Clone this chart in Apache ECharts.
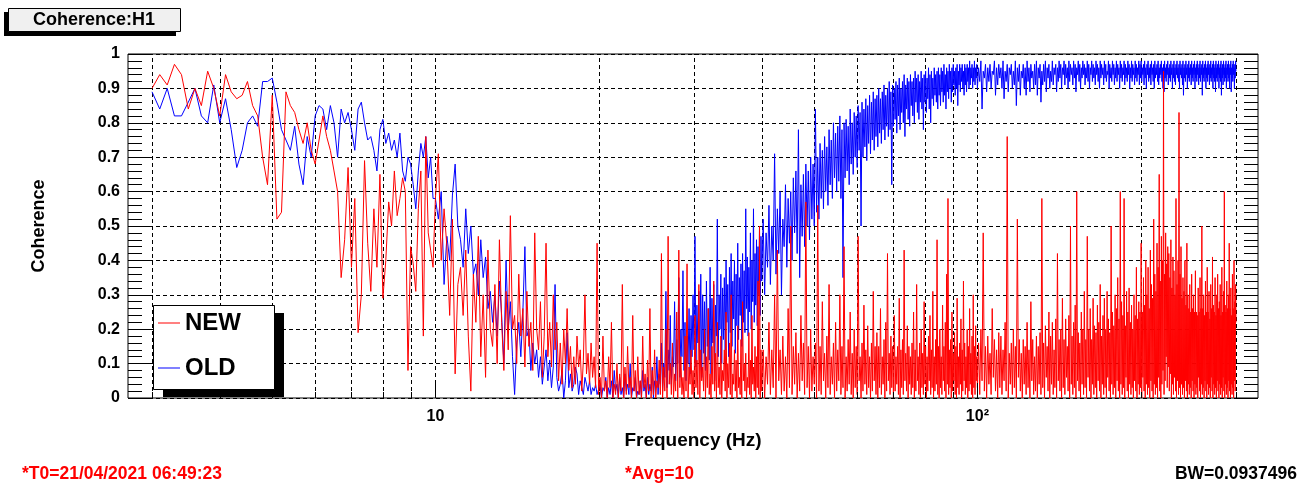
<!DOCTYPE html>
<html><head><meta charset="utf-8">
<script src="https://cdn.jsdelivr.net/npm/echarts@6/dist/echarts.min.js"></script>
<style>html,body{margin:0;padding:0;background:#fff}#c{width:1307px;height:490px}</style>
</head><body><div id="c"></div><script>
// Frequency segments (Hz): start and spacing of the values below
const SEG_START = [3, 10, 20, 40, 100];
const SEG_STEP = [0.1, 0.125, 0.125, 0.25, 0.5];

// NEW (red) coherence, in percent
const NEW_3_10 = [90,94,91,97,94,84,90,85,95,90, 82,94,89,87,88,92,85,82,70,62, 88,52,54,89,85,83,78,74,80,72,
  68,75,82,76,72,66,60,35,46,67, 38,58,19,30,69,45,31,55,38,65, 29,40,57,50,66,53,58,64,60,8, 44,39,31,55,66,18,76,48,43,38];
const NEW_10_20 = [58,71,40,55,44,24,52,7,33,38, 24,43,18,2,36,22,47,12,30,6, 43,20,15,33,10,46,22,8,31,14,
  53,20,24,10,36,18,26,9,31,15, 22,8,48,20,14,28,6,18,45,12, 22,9,30,14,22,5,16,4,20,10,
  26,8,15,3,12,4,18,9,14,2, 11,30,7,13,4,16,6,12,3,45];
const NEW_20_40 = [1,6,0,18,2,5,0,12, 3,22,0,4,1,10,0,7, 2,33,0,9,1,15,3,6, 0,24,2,8,0,12,1,5,
  0,18,3,7,0,11,2,26, 0,8,1,14,0,5,3,11, 1,42,0,9,2,20,0,47, 4,10,1,16,0,7,2,25,
  0,43,3,12,1,6,0,18, 2,39,0,9,4,14,1,8, 0,24,3,11,1,33,0,14, 5,9,2,20,0,12,3,26,
  1,7,0,15,4,34,2,13, 0,22,3,9,1,18,0,8, 5,14,2,25,0,10,3,16, 1,30,0,7,4,14,2,11,
  0,21,3,6,1,17,0,28, 5,10,2,13,0,6,3,19, 1,11,0,24,4,9,2,15, 0,12,3,34,1,50,0,14];
const NEW_40_100 = [2,14,0,12,4,22,1,14,3,30,0,43,5,14,1,18,2,12,0,26,
  3,50,1,15,4,19,0,13,2,24,5,16,1,57,3,15,0,20,2,12,
  4,16,0,56,2,15,1,28,5,13,0,18,3,33,1,12,4,16,0,22,
  2,14,5,30,1,15,3,44,0,12,2,17,4,25,1,13,0,20,3,15,
  1,47,5,12,0,16,2,27,4,14,1,21,3,12,0,16,2,31,5,15,
  1,19,0,15,3,26,1,12,4,17,0,22,2,42,5,13,1,18,3,15,
  0,24,2,12,4,15,1,29,0,14,3,17,1,43,5,13,2,21,0,15,
  4,12,1,16,3,25,0,14,2,33,5,12,1,16,0,20,3,13,1,28,
  4,15,0,12,2,18,5,24,1,14,3,31,0,12,2,17,4,46,1,15,
  0,20,3,12,1,27,5,15,2,22,0,36,4,58,1,14,3,17,0,25,
  2,13,5,19,1,15,0,29,3,12,1,16,4,23,0,14,2,34,5,16,
  1,12,3,20,0,15,2,26,4,13,1,18,0,30,3,15,1,21,5,12];
const NEW_100_300 = [3,16,1,20,5,48,2,15,0,18,4,13,1,26,6,17,2,14,0,19,
  3,18,1,14,5,22,2,76,0,13,4,16,1,20,3,15,0,52,6,17,
  2,13,0,17,4,15,1,22,3,14,0,28,5,17,1,12,2,18,0,15,
  4,19,1,58,3,16,0,21,6,15,2,25,0,18,4,22,1,14,3,23,
  0,42,5,17,2,20,0,29,3,17,1,23,6,15,2,24,0,50,4,18,
  1,22,3,27,0,60,5,19,2,16,0,25,4,20,1,31,3,17,0,47,
  6,20,2,26,0,17,4,29,1,21,3,19,0,27,5,22,2,33,0,18,
  4,24,1,29,3,20,0,31,6,23,2,19,0,50,4,25,1,21,3,30,
  0,26,5,35,2,23,0,60,4,28,1,24,3,58,0,21,6,31,2,25,
  0,32,4,22,1,27,3,20,0,30,5,24,2,38,0,23,4,28,1,25,
  3,45,0,25,6,35,2,27,0,40,4,30,1,38,3,26,0,43,5,33,
  2,29,0,52,4,36,1,31,3,45,0,38,6,65,2,34,0,47,4,40,
  8,95,1,36,5,48,12,39,3,44,9,42,2,35,7,46,0,32,4,41,
  1,37,6,30,2,58,0,33,5,40,1,83,3,36,0,44,4,29,1,35,
  3,31,0,40,5,27,2,45,0,30,4,26,1,33,3,25,0,36,5,26,
  2,30,0,25,4,37,1,25,3,24,0,32,6,25,2,35,0,26,4,50,
  1,26,3,30,0,24,5,34,2,25,0,38,4,25,1,31,3,23,0,33,
  6,26,2,41,0,27,4,25,1,35,3,24,0,30,5,36,2,26,0,28,
  4,33,1,24,3,38,0,25,6,31,2,60,0,27,4,25,1,34,3,26,
  0,30,5,45,2,26,0,32,4,24,1,36,3,26,0,40,5,28,2,33, 22];

// OLD (blue) coherence, in percent
const OLD_3_10 = [89,84,90,82,82,86,90,82,80,91, 80,87,78,67,72,80,82,79,92,92, 93,86,78,75,72,79,68,62,76,70,
  82,85,84,78,85,80,70,84,80,83, 78,72,84,86,80,75,76,72,66,78, 81,74,77,72,75,70,77,66,63,70, 68,62,55,66,74,70,76,64,70,58];
const OLD_10_20 = [58,52,60,33,47,40,59,68,50,46, 38,55,42,50,36,39,30,46,35,41, 26,31,22,30,18,34,24,10,40,20,
  28,12,1,16,22,12,25,44,18,20, 8,16,10,14,6,12,4,9,14,5, 11,3,9,33,6,2,4,8,0,5,
  19,3,7,2,4,9,7,1,5,3, 1,6,4,2,5,1,3,2,4,1];
const OLD_20_40 = [1,4,0,3,2,6,0,3, 1,5,0,8,2,4,0,6, 1,3,0,7,2,4,1,10, 0,3,2,6,0,2,1,5,
  0,8,2,4,0,6,1,4, 2,9,0,5,3,12,1,7, 4,16,2,10,6,31,3,14, 8,24,4,12,9,28,5,17,
  10,35,6,20,12,37,8,22, 5,18,10,26,7,24,12,30, 14,47,9,27,16,31,10,36, 6,30,13,28,8,34,15,26,
  11,38,7,29,16,33,5,27, 18,52,12,30,20,36,10,32, 17,35,14,40,22,33,12,38, 19,42,15,34,23,40,13,36,
  21,45,17,35,24,39,15,42, 22,37,19,55,26,41,18,38, 25,48,20,40,28,55,22,42, 27,46,21,44,30,50,24,47];
const OLD_40_100 = [34,52,30,48,38,56,33,50,40,71,36,55,42,60,30,52,44,62,38,58,
  45,60,40,64,48,66,42,78,35,62,47,65,44,68,50,66,46,70,52,68,
  50,84,54,70,52,74,58,72,55,76,60,73,56,78,62,75,58,80,64,77,
  60,79,63,82,58,78,35,80,64,81,66,79,62,84,68,80,65,83,70,82,
  67,85,72,83,50,86,70,84,73,87,69,85,74,88,71,86,75,89,72,87,
  76,88,73,90,77,87,74,89,78,91,75,88,79,90,76,92,78,89,62,91,
  79,90,81,92,77,91,82,93,78,90,83,92,80,94,76,91,84,93,81,92,
  79,94,85,92,82,93,80,95,86,93,83,94,81,92,86,95,84,93,78,94,
  86,95,83,93,87,96,84,94,80,95,87,93,85,96,88,94,86,95,84,96,
  88,94,85,96,89,95,86,97,88,94,84,96,89,95,87,97,90,95,86,96,
  89,97,91,95,88,96,90,97,85,95,91,97,89,96,92,97,90,95,88,97,
  91,96,89,97,92,96,90,98,91,96,93,97,90,96,92,98,91,96,93,97];
const OLD_100_300 = [90,96,92,98,84,95,93,97,89,96,92,97,90,95,94,98,88,96,91,97,
  93,96,90,98,87,95,92,97,89,96,94,97,90,95,91,98,85,96,92,97,
  88,95,93,97,90,96,88,98,92,96,89,97,93,95,90,97,91,98,88,96,
  93,97,86,95,91,97,92,98,89,96,93,97,90,95,92,98,91,96,94,97,
  89,96,92,98,93,97,90,96,94,98,91,97,93,96,90,98,92,97,94,96,
  91,98,93,97,89,96,94,98,92,97,90,96,93,98,94,97,91,96,93,98,
  92,97,90,96,94,98,92,97,93,96,91,98,94,97,92,96,90,98,93,97,
  94,96,91,98,93,97,92,95,94,98,90,97,93,96,92,98,94,97,91,96,
  93,98,92,97,94,96,90,98,93,97,92,96,94,98,91,97,93,96,92,98,
  94,97,90,96,93,98,92,97,94,96,91,98,93,97,92,96,94,98,91,97,
  93,98,92,96,94,97,91,98,93,96,90,97,94,98,92,96,93,97,91,98,
  94,96,92,97,90,98,93,96,94,97,92,98,91,96,93,97,94,98,92,96,
  90,97,89,98,93,96,92,97,94,98,91,96,93,97,92,98,94,96,90,97,
  93,98,92,96,91,97,94,98,93,96,92,97,90,98,94,96,93,97,91,98,
  88,96,93,97,92,98,94,96,90,97,93,98,92,96,94,97,91,98,93,96,
  92,97,94,98,90,96,93,97,92,98,94,96,91,97,93,98,92,96,94,97,
  88,98,93,96,92,97,94,98,90,96,93,97,92,98,94,96,91,97,93,98,
  92,96,94,97,90,98,93,96,92,97,89,98,93,96,92,97,94,98,90,96,
  93,97,92,98,88,96,93,97,91,98,94,96,92,97,93,98,90,96,94,97,
  92,98,93,96,90,97,94,98,89,96,93,97,92,98,94,96,90,97,93,98, 95];

// Axis ticks / grid
const GRID_F = [3,4,5,6,7,8,9,10,20,30,40,50,60,70,80,90,100,200,300];
const MAJOR_F = [10,100];
const Y_MIN = 0, Y_MAX = 1, Y_STEP = 0.1;
const X_MIN = 2.709, X_MAX = 329.4;

function build(segs) {
  const out = [];
  segs.forEach((vals, s) => {
    vals.forEach((v, i) => {
      const f = +(SEG_START[s] + i * SEG_STEP[s]).toFixed(4);
      out.push([f, v / 100]);
    });
  });
  return out;
}
const newData = build([NEW_3_10, NEW_10_20, NEW_20_40, NEW_40_100, NEW_100_300]);
const oldData = build([OLD_3_10, OLD_10_20, OLD_20_40, OLD_40_100, OLD_100_300]);

const FONT = '"Liberation Sans", Arial, sans-serif';
const chart = echarts.init(document.getElementById('c'), null, {renderer: 'canvas'});
const yLab = v => (Math.abs(v) < 1e-9 ? '0' : Math.abs(v - 1) < 1e-9 ? '1' : v.toFixed(1));
const yCommon = {
  type: 'value', min: Y_MIN, max: Y_MAX, interval: Y_STEP,
  axisLine: {show: false},
  axisTick: {show: true, inside: true, length: 22, lineStyle: {color: '#000', width: 1}},
  minorTick: {show: true, splitNumber: 5, length: 14, lineStyle: {color: '#000', width: 1}}
};
chart.setOption({
  animation: false,
  backgroundColor: '#fff',
  grid: {left: 128, right: 49, top: 54, bottom: 92, show: true, borderColor: '#000', borderWidth: 1, backgroundColor: 'transparent'},
  xAxis: {
    type: 'log', logBase: 10, min: X_MIN, max: X_MAX,
    axisLine: {show: false}, axisTick: {show: false}, splitLine: {show: false}, minorTick: {show: false}, minorSplitLine: {show: false},
    axisLabel: {
      margin: 11, fontSize: 16, fontWeight: 'bold', fontFamily: FONT, color: '#000',
      showMinLabel: false, showMaxLabel: false,
      formatter: v => {
        const l = Math.log10(v), e = Math.round(l);
        if (Math.abs(l - e) > 1e-6) return '';
        return e === 1 ? '10' : '10\u00b2';
      }
    },
    name: 'Frequency (Hz)', nameLocation: 'middle', nameGap: 33,
    nameTextStyle: {fontSize: 19, fontWeight: 'bold', fontFamily: FONT, color: '#000'}
  },
  yAxis: [
    Object.assign({}, yCommon, {
      position: 'left',
      splitLine: {show: true, lineStyle: {color: '#000', type: [4, 3], width: 1}},
      axisLabel: {margin: 8, fontSize: 16, fontWeight: 'bold', fontFamily: FONT, color: '#000', formatter: yLab},
      name: 'Coherence', nameLocation: 'middle', nameGap: 80, nameRotate: 90,
      nameTextStyle: {fontSize: 18, fontWeight: 'bold', fontFamily: FONT, color: '#000'}
    }),
    Object.assign({}, yCommon, {
      position: 'right', splitLine: {show: false}, axisLabel: {show: false}
    })
  ],
  legend: {
    data: ['NEW', 'OLD'], orient: 'vertical', left: 158, top: 311, padding: 0,
    itemWidth: 22, itemHeight: 1, itemGap: 21, icon: 'rect', selectedMode: false, z: 12,
    textStyle: {fontSize: 24, fontWeight: 'bold', fontFamily: FONT, color: '#000'}
  },
  graphic: {elements: [
    {type: 'rect', z: 10, shape: {x: 4, y: 12, width: 172, height: 24}, style: {fill: '#000'}},
    {type: 'rect', z: 11, shape: {x: 8.5, y: 8.5, width: 172, height: 23}, style: {fill: '#f0f0f0', stroke: '#000', lineWidth: 1}},
    {type: 'text', z: 12, x: 94, y: 20, style: {text: 'Coherence:H1', font: 'bold 18px ' + FONT, fill: '#000', align: 'center', verticalAlign: 'middle'}},
    {type: 'rect', z: 10, shape: {x: 163, y: 313, width: 121, height: 84}, style: {fill: '#000'}},
    {type: 'rect', z: 11, shape: {x: 153.5, y: 305.5, width: 121, height: 84}, style: {fill: '#fff', stroke: '#000', lineWidth: 1}},
    {type: 'text', z: 12, x: 22, y: 474, style: {text: '*T0=21/04/2021 06:49:23', font: 'bold 17.5px ' + FONT, fill: '#ff0000', align: 'left', verticalAlign: 'middle'}},
    {type: 'text', z: 12, x: 625, y: 474, style: {text: '*Avg=10', font: 'bold 17.5px ' + FONT, fill: '#ff0000', align: 'left', verticalAlign: 'middle'}},
    {type: 'text', z: 12, x: 1297, y: 474, style: {text: 'BW=0.0937496', font: 'bold 17.5px ' + FONT, fill: '#000', align: 'right', verticalAlign: 'middle'}}
  ]},
  series: [
    {
      type: 'custom', silent: true, z: 1, data: GRID_F.map(f => [f, 0]),
      renderItem: (params, api) => {
        const p0 = api.coord([api.value(0), Y_MIN]);
        const p1 = api.coord([api.value(0), Y_MAX]);
        const x = Math.round(p0[0]) + 0.5;
        return {type: 'line', shape: {x1: x, y1: p0[1], x2: x, y2: p1[1]}, style: {stroke: '#000', lineWidth: 1, lineDash: [4, 3]}};
      }
    },
    {
      name: 'OLD', type: 'line', data: oldData, showSymbol: false, symbol: 'none', z: 2, sampling: null,
      lineStyle: {color: '#0000ff', width: 1}, itemStyle: {color: '#0000ff'}, silent: true
    },
    {
      name: 'NEW', type: 'line', data: newData, showSymbol: false, symbol: 'none', z: 2, sampling: null,
      lineStyle: {color: '#ff0000', width: 1}, itemStyle: {color: '#ff0000'}, silent: true
    },
    {
      type: 'custom', silent: true, z: 3, data: GRID_F.map(f => [f, 0]),
      renderItem: (params, api) => {
        const f = api.value(0);
        const p = api.coord([f, Y_MIN]);
        const x = Math.round(p[0]) + 0.5;
        const len = MAJOR_F.indexOf(f) >= 0 ? 15 : 6;
        return {type: 'line', shape: {x1: x, y1: p[1], x2: x, y2: p[1] - len}, style: {stroke: '#000', lineWidth: 1}};
      }
    }
  ]
});
</script></body></html>
